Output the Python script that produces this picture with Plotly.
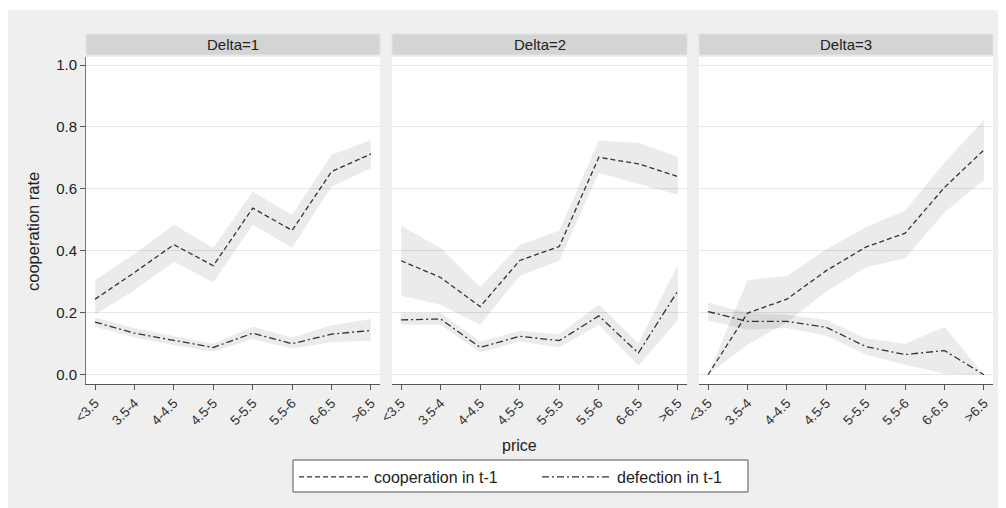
import plotly.graph_objects as go

categories = ["<3.5", "3.5-4", "4-4.5", "4.5-5", "5-5.5", "5.5-6", "6-6.5", ">6.5"]
panels = ["Delta=1", "Delta=2", "Delta=3"]
y_ticks = [0.0, 0.2, 0.4, 0.6, 0.8, 1.0]
y_tick_labels = ["0.0", "0.2", "0.4", "0.6", "0.8", "1.0"]

# cooperation in t-1
coop_d1 = [0.244, 0.330, 0.420, 0.352, 0.538, 0.466, 0.656, 0.713]
coop_d1_hi = [0.306, 0.391, 0.484, 0.410, 0.591, 0.516, 0.710, 0.758]
coop_d1_lo = [0.194, 0.273, 0.365, 0.298, 0.484, 0.410, 0.607, 0.667]
coop_d2 = [0.368, 0.314, 0.220, 0.369, 0.414, 0.702, 0.681, 0.640]
coop_d2_hi = [0.481, 0.409, 0.283, 0.419, 0.466, 0.756, 0.749, 0.704]
coop_d2_lo = [0.255, 0.226, 0.161, 0.319, 0.368, 0.651, 0.616, 0.581]
coop_d3 = [0.000, 0.199, 0.244, 0.336, 0.412, 0.457, 0.605, 0.726]
coop_d3_hi = [0.000, 0.306, 0.319, 0.405, 0.476, 0.530, 0.685, 0.823]
coop_d3_lo = [0.000, 0.097, 0.169, 0.269, 0.346, 0.376, 0.524, 0.629]

# defection in t-1
def_d1 = [0.170, 0.134, 0.111, 0.088, 0.134, 0.100, 0.131, 0.143]
def_d1_hi = [0.185, 0.150, 0.125, 0.100, 0.155, 0.120, 0.160, 0.180]
def_d1_lo = [0.155, 0.120, 0.095, 0.075, 0.115, 0.085, 0.105, 0.110]
def_d2 = [0.177, 0.180, 0.088, 0.124, 0.110, 0.190, 0.070, 0.271]
def_d2_hi = [0.199, 0.200, 0.107, 0.142, 0.131, 0.226, 0.102, 0.355]
def_d2_lo = [0.161, 0.161, 0.072, 0.107, 0.088, 0.161, 0.029, 0.177]
def_d3 = [0.204, 0.172, 0.172, 0.153, 0.091, 0.065, 0.078, 0.000]
def_d3_hi = [0.233, 0.199, 0.194, 0.177, 0.118, 0.100, 0.154, 0.000]
def_d3_lo = [0.175, 0.145, 0.151, 0.126, 0.065, 0.032, 0.003, 0.000]

coop = [(coop_d1, coop_d1_lo, coop_d1_hi), (coop_d2, coop_d2_lo, coop_d2_hi), (coop_d3, coop_d3_lo, coop_d3_hi)]
defe = [(def_d1, def_d1_lo, def_d1_hi), (def_d2, def_d2_lo, def_d2_hi), (def_d3, def_d3_lo, def_d3_hi)]

# page offset (browser body margin) and figure size
OX, OY = 8, 8
W, H = 1006 - OX, 508 - OY
FONT = "Liberation Sans, Arial, Helvetica, sans-serif"
LINE_COL = "#333333"
BAND_COL = "rgba(0,0,0,0.08)"
COOP_DASH = "5px,3px"
DEF_DASH = "7px,3px,2px,3px"


def px_x(p):
    return (p - OX) / W


def px_y(p):
    return 1 - (p - OY) / H


x_domains = [(86, 380), (392, 687), (699, 993)]
y_dom = [px_y(384), px_y(57)]

fig = go.Figure()

for i in range(3):
    sfx = "" if i == 0 else str(i + 1)
    xa, ya = "x" + sfx, "y" + sfx
    for (mid, lo, hi) in (coop[i], defe[i]):
        fig.add_trace(go.Scatter(
            x=categories + categories[::-1], y=hi + lo[::-1],
            fill="toself", fillcolor=BAND_COL, line=dict(width=0),
            mode="lines", showlegend=False, hoverinfo="skip",
            xaxis=xa, yaxis=ya))
    fig.add_trace(go.Scatter(
        x=categories, y=coop[i][0], mode="lines",
        line=dict(color=LINE_COL, width=1.3, dash=COOP_DASH),
        name="cooperation in t-1", showlegend=(i == 0), legend="legend",
        xaxis=xa, yaxis=ya))
    fig.add_trace(go.Scatter(
        x=categories, y=defe[i][0], mode="lines",
        line=dict(color=LINE_COL, width=1.3, dash=DEF_DASH),
        name="defection in t-1", showlegend=(i == 0), legend="legend2",
        xaxis=xa, yaxis=ya))

legend_common = dict(
    orientation="h", yanchor="middle", xanchor="left",
    bgcolor="rgba(0,0,0,0)", borderwidth=0,
    font=dict(size=16, family=FONT, color="#222222"),
    itemwidth=70,
)

layout = dict(
    width=W, height=H,
    margin=dict(l=0, r=0, t=0, b=0, pad=0),
    paper_bgcolor="#efefef",
    plot_bgcolor="white",
    font=dict(family=FONT, color="#222222"),
    showlegend=True,
    legend=dict(x=px_x(294), y=px_y(477), **legend_common),
    legend2=dict(x=px_x(537), y=px_y(477), **legend_common),
)

for i in range(3):
    sfx = "" if i == 0 else str(i + 1)
    x0, x1 = x_domains[i]
    layout["xaxis" + sfx] = dict(
        domain=[px_x(x0), px_x(x1)],
        type="category", categoryorder="array", categoryarray=categories,
        range=[-0.23, 7.23], anchor="y" + sfx, automargin=False,
        showgrid=False, zeroline=False,
        showline=True, linecolor="#555555", linewidth=1,
        ticks="outside", ticklen=5, tickcolor="#555555", tickwidth=1,
        tickangle=-45, tickfont=dict(size=13.5, family=FONT, color="#333333"),
    )
    layout["yaxis" + sfx] = dict(
        domain=y_dom, anchor="x" + sfx, automargin=False,
        range=[-0.03, 1.026],
        tickvals=y_ticks, ticktext=y_tick_labels,
        showgrid=True, gridcolor="#e6e6e6", gridwidth=1,
        zeroline=False,
        showline=(i == 0), linecolor="#777777", linewidth=1,
        ticks="outside" if i == 0 else "", ticklen=5, tickcolor="#555555",
        showticklabels=(i == 0),
        tickfont=dict(size=15, family=FONT, color="#222222"),
    )
    if i > 0:
        layout["yaxis" + sfx]["matches"] = "y"

shapes = [
    dict(type="rect", xref="paper", yref="paper", x0=0, x1=1, y0=px_y(10), y1=1,
         fillcolor="white", line=dict(width=0), layer="below"),
    # legend box
    dict(type="rect", xref="paper", yref="paper",
         x0=px_x(293), x1=px_x(748), y0=px_y(492), y1=px_y(460),
         fillcolor="white", line=dict(color="#555555", width=1)),
]
annotations = []
for i, name in enumerate(panels):
    x0, x1 = x_domains[i]
    shapes.append(dict(type="rect", xref="paper", yref="paper",
                       x0=px_x(x0), x1=px_x(x1), y0=px_y(55), y1=px_y(34),
                       fillcolor="#d4d4d4", line=dict(color="#dfe5ea", width=1)))
    annotations.append(dict(text=name, xref="paper", yref="paper",
                            x=px_x((x0 + x1) / 2), y=px_y(44.5),
                            xanchor="center", yanchor="middle", showarrow=False,
                            font=dict(size=15, family=FONT, color="#222222")))

annotations.append(dict(text="cooperation rate", xref="paper", yref="paper",
                        x=px_x(33), y=px_y(232), textangle=-90,
                        xanchor="center", yanchor="middle", showarrow=False,
                        font=dict(size=16.5, family=FONT, color="#222222")))
annotations.append(dict(text="price", xref="paper", yref="paper",
                        x=px_x(520), y=px_y(445),
                        xanchor="center", yanchor="middle", showarrow=False,
                        font=dict(size=16, family=FONT, color="#222222")))

layout["shapes"] = shapes
layout["annotations"] = annotations
fig.update_layout(**layout)

fig.write_html("out.html")
